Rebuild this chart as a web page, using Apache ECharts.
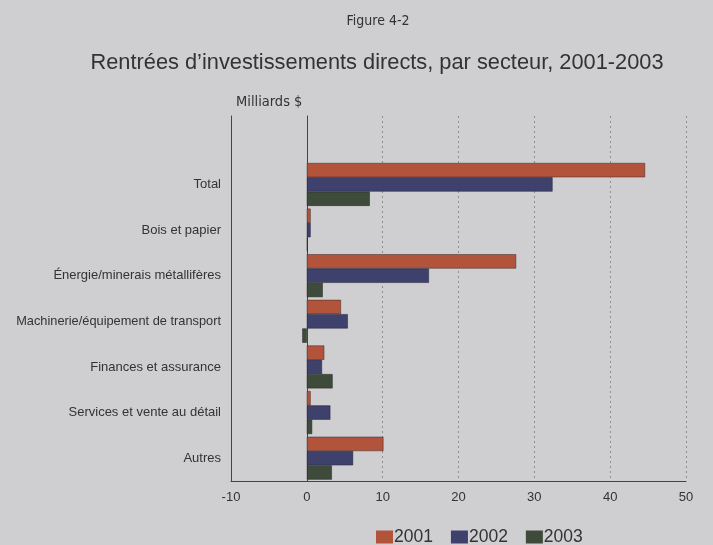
<!DOCTYPE html>
<html>
<head>
<meta charset="utf-8">
<script src="https://cdn.jsdelivr.net/npm/echarts@6/dist/echarts.min.js"></script>
<style>
html,body{margin:0;padding:0;background:#cfced1;}
#c{width:713px;height:545px;}
</style>
</head>
<body>
<div id="c"></div>
<script>
// Categories (top empty slot mirrors the blank band above "Total")
const categories = ['', 'Total', 'Bois et papier', 'Énergie/minerais métallifères', 'Machinerie/équipement de transport', 'Finances et assurance', 'Services et vente au détail', 'Autres'];
const seriesNames = ['2001', '2002', '2003'];
const values2001 = [null, 44.6, 0.5, 27.6, 4.5, 2.3, 0.5, 10.1];
const values2002 = [null, 32.4, 0.5, 16.1, 5.4, 2.0, 3.1, 6.1];
const values2003 = [null, 8.3, 0.1, 2.1, -0.6, 3.4, 0.7, 3.3];
const xTicks = { min: -10, max: 50, interval: 10 };
const colors = ['#b2533b', '#3e416c', '#3e4a3a'];

const chart = echarts.init(document.getElementById('c'));
const font = 'Liberation Sans, Arial, sans-serif';
const narrow = '"Liberation Sans Narrow", "Arial Narrow", "DejaVu Sans Condensed", Liberation Sans, sans-serif';
chart.setOption({
  backgroundColor: '#cfced1',
  animation: false,
  textStyle: { fontFamily: font },
  title: [
    { text: 'Figure 4-2', left: 373, textAlign: 'center', top: 9, textStyle: { fontSize: 14, fontWeight: 'normal', color: '#333', fontFamily: narrow } },
    { text: 'Rentrées d\u2019investissements directs, par secteur, 2001-2003', left: 372, textAlign: 'center', top: 47, textStyle: { fontSize: 21.8, fontWeight: 'normal', color: '#333', fontFamily: font } },
    { text: 'Milliards $', left: 231, top: 90, textStyle: { fontSize: 14.5, fontWeight: 'normal', color: '#333', fontFamily: narrow } }
  ],
  legend: {
    top: 523, left: 371,
    itemWidth: 17, itemHeight: 13, itemGap: 18,
    icon: 'rect',
    itemStyle: { borderWidth: 0 },
    textStyle: { fontSize: 17.5, color: '#333', padding: [0, 0, 0, -4] },
    data: seriesNames
  },
  grid: { left: 231, right: 27, top: 116, bottom: 64 },
  xAxis: {
    type: 'value', min: xTicks.min, max: xTicks.max, interval: xTicks.interval,
    axisLine: { show: true, onZero: false, lineStyle: { color: '#444', width: 1 } },
    axisTick: { show: false },
    axisLabel: { fontSize: 13, color: '#333', margin: 10 },
    splitLine: { show: true, showMinLine: false, lineStyle: { color: '#8e8e92', type: [2, 3], width: 1 } }
  },
  yAxis: [
    {
      type: 'category', data: categories, inverse: true,
      axisLine: { show: true, onZero: false, lineStyle: { color: '#444', width: 1 } },
      axisTick: { show: false },
      axisLabel: {
        margin: 10, color: '#333', fontSize: 13,
        formatter: function (v) { return v === categories[4] ? '{s|' + v + '}' : v; },
        rich: { s: { fontSize: 12.8, color: '#333' } }
      }
    },
    {
      type: 'category', data: categories, inverse: true, position: 'left',
      axisLine: { show: true, onZero: true, lineStyle: { color: '#444', width: 1 } },
      axisTick: { show: false },
      axisLabel: { show: false }
    }
  ],
  series: [
    { name: seriesNames[0], type: 'bar', data: values2001, itemStyle: { color: colors[0], borderColor: '#3a2a25', borderWidth: 0.5 }, barGap: '0%', barCategoryGap: '6%' },
    { name: seriesNames[1], type: 'bar', data: values2002, itemStyle: { color: colors[1], borderColor: '#22233a', borderWidth: 0.5 }, barGap: '0%', barCategoryGap: '6%' },
    { name: seriesNames[2], type: 'bar', data: values2003, itemStyle: { color: colors[2], borderColor: '#222a20', borderWidth: 0.5 }, barGap: '0%', barCategoryGap: '6%' }
  ]
});
</script>
</body>
</html>
